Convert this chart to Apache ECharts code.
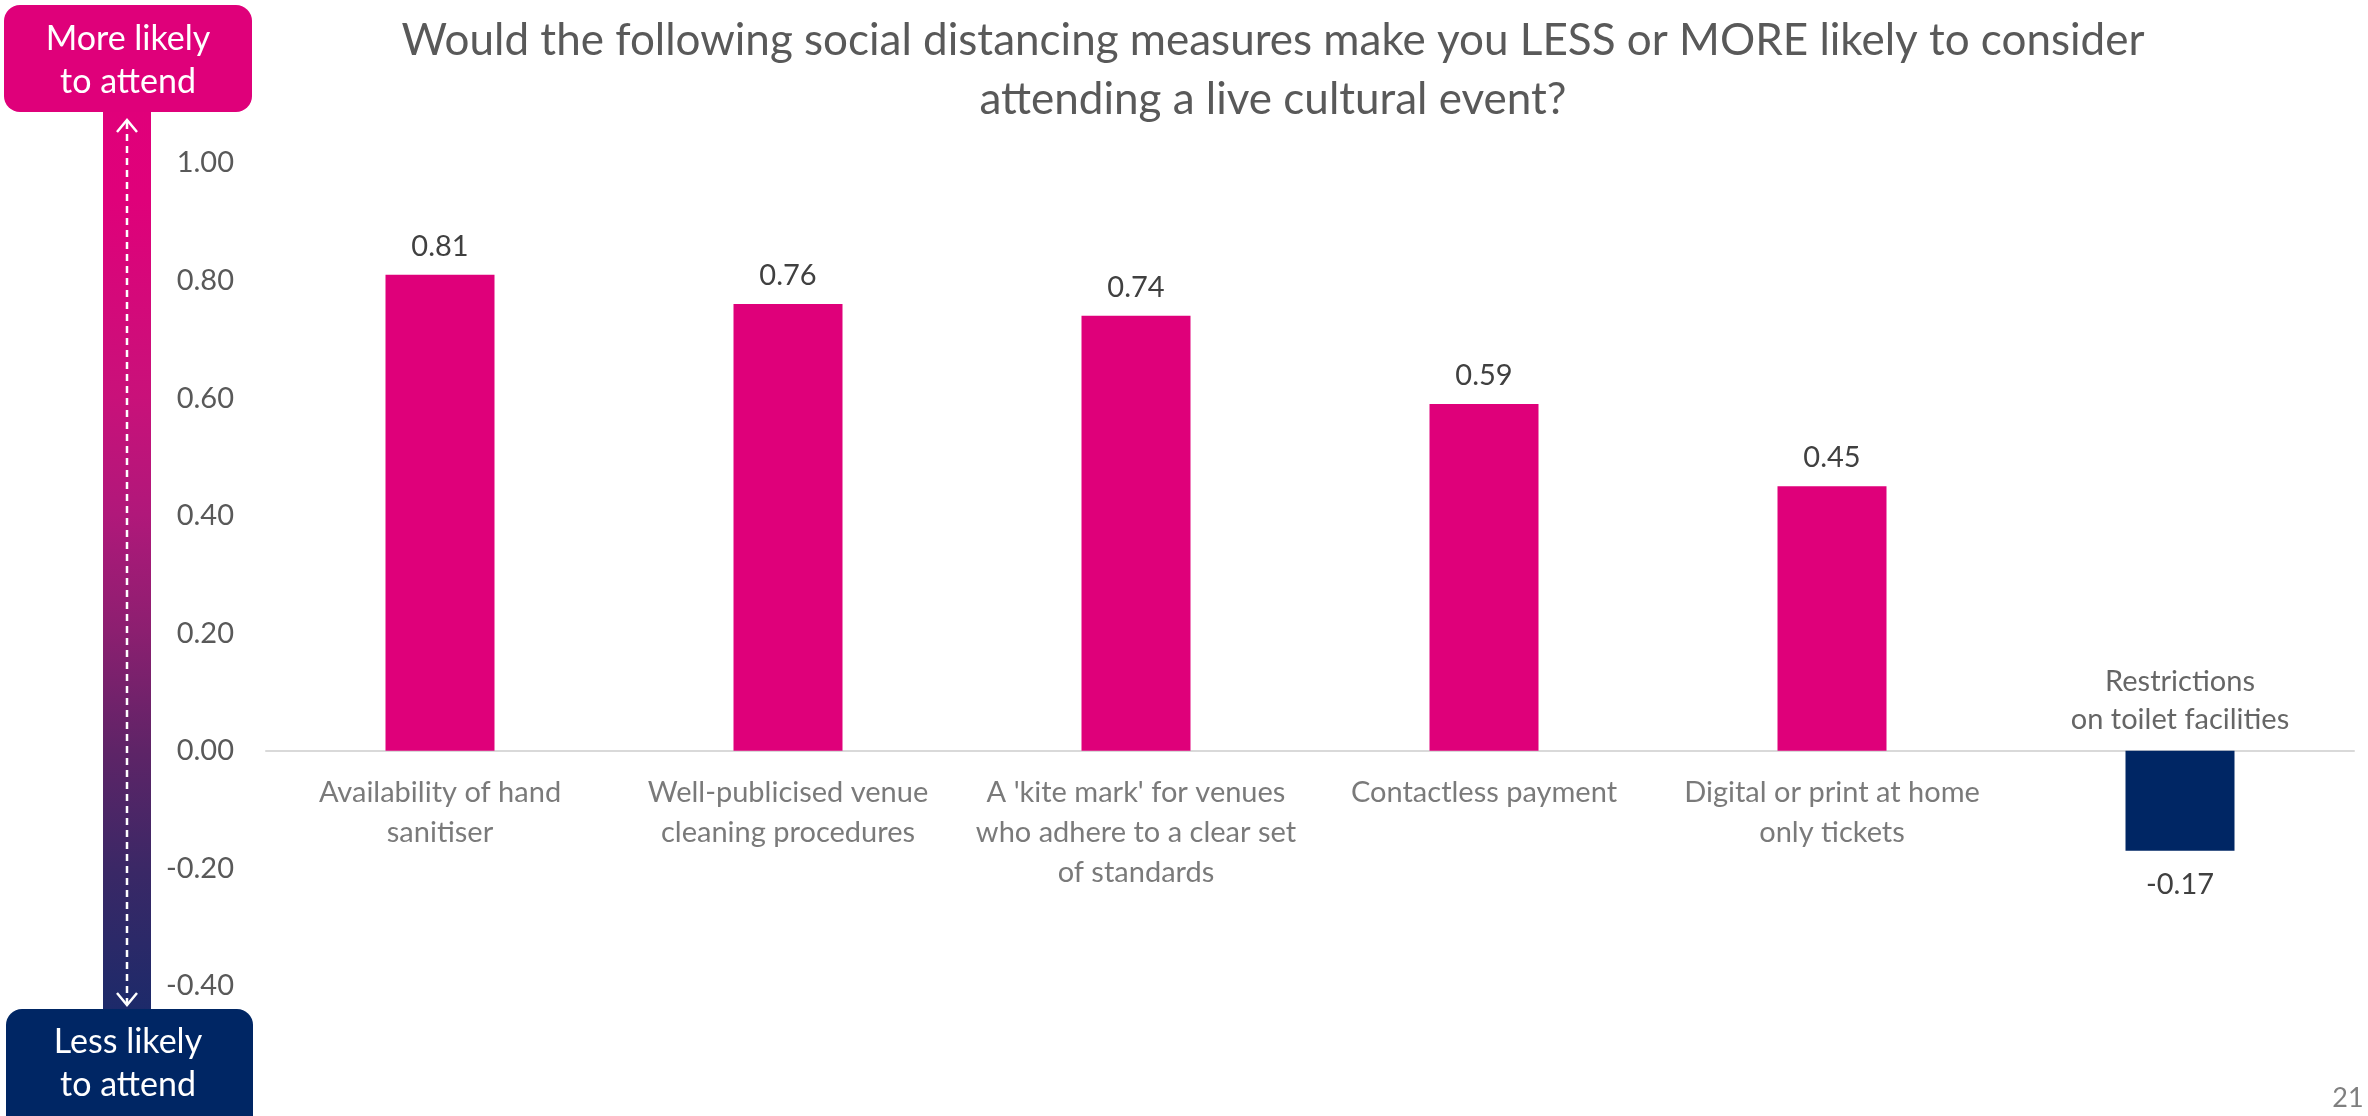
<!DOCTYPE html>
<html>
<head>
<meta charset="utf-8">
<script src="https://cdn.jsdelivr.net/npm/echarts@6/dist/echarts.min.js"></script>
<style>
html,body{margin:0;padding:0;background:#fff;}
#chart{width:2368px;height:1116px;}
</style>
</head>
<body>
<div id="chart"></div>
<script>
const titleText = "Would the following social distancing measures make you LESS or MORE likely to consider\nattending a live cultural event?";
const categories = [
  "Availability of hand\nsanitiser",
  "Well-publicised venue\ncleaning procedures",
  "A 'kite mark' for venues\nwho adhere to a clear set\nof standards",
  "Contactless payment",
  "Digital or print at home\nonly tickets",
  "Restrictions\non toilet facilities"
];
const values = [0.81, 0.76, 0.74, 0.59, 0.45, -0.17];
const yTicks = [-0.4, -0.2, 0, 0.2, 0.4, 0.6, 0.8, 1.0];
const topBoxText = "More likely\nto attend";
const bottomBoxText = "Less likely\nto attend";
const pageNumber = "21";

const PINK = '#DF007A';
const NAVY = '#002664';
const FONT = 'Lato, "Noto Sans", sans-serif';

const chart = echarts.init(document.getElementById('chart'), null, {renderer: 'canvas'});

const option = {
  backgroundColor: '#ffffff',
  animation: false,
  title: {
    text: titleText,
    left: 1268,
    top: 6,
    textAlign: 'center',
    textStyle: {
      fontFamily: FONT,
      fontSize: 44,
      fontWeight: 'normal',
      color: '#595959',
      lineHeight: 59
    }
  },
  grid: {left: 266, right: 14, top: 163, bottom: 130, containLabel: false, outerBoundsMode: 'none'},
  xAxis: {
    type: 'category',
    data: categories,
    axisLine: {show: true, onZero: true, lineStyle: {color: '#D9D9D9', width: 2}},
    axisTick: {show: false},
    axisLabel: {show: false}
  },
  yAxis: {
    type: 'value',
    min: yTicks[0],
    max: yTicks[yTicks.length - 1],
    interval: 0.2,
    axisLine: {show: false},
    axisTick: {show: false},
    splitLine: {show: false},
    axisLabel: {
      margin: 32,
      fontFamily: FONT,
      fontSize: 29,
      color: '#595959',
      formatter: function (v) { return v.toFixed(2); }
    }
  },
  series: [
    {
      type: 'bar',
      barWidth: 109,
      data: values.map(function (v) {
        return {
          value: v,
          itemStyle: {color: v < 0 ? NAVY : PINK},
          label: {position: v < 0 ? 'bottom' : 'top', distance: v < 0 ? 19 : 14}
        };
      }),
      label: {
        show: true,
        fontFamily: FONT,
        fontSize: 29,
        color: '#404040',
        formatter: function (p) { return p.value.toFixed(2); }
      }
    },
    {
      type: 'scatter',
      symbolSize: 0,
      silent: true,
      data: values.map(function (v, i) {
        return {
          value: [i, 0],
          label: v < 0
            ? {position: 'top', distance: 12, color: '#404040', lineHeight: 38}
            : {position: 'bottom', distance: 22, color: '#595959', lineHeight: 40}
        };
      }),
      label: {
        show: true,
        fontFamily: FONT,
        fontSize: 29,
        align: 'center',
        formatter: function (p) { return categories[p.value[0]]; }
      }
    }
  ],
  graphic: [
    {
      type: 'rect',
      shape: {x: 103, y: 110, width: 48, height: 902},
      style: {
        fill: new echarts.graphic.LinearGradient(0, 0, 0, 1, [
          {offset: 0, color: '#E0007A'},
          {offset: 0.1, color: '#DF017A'},
          {offset: 0.317, color: '#C9117A'},
          {offset: 0.449, color: '#B0187A'},
          {offset: 0.577, color: '#8C1F70'},
          {offset: 0.71, color: '#5E2467'},
          {offset: 0.844, color: '#3A2866'},
          {offset: 1, color: '#1C2A6A'}
        ])
      },
      z: 1
    },
    {
      type: 'line',
      shape: {x1: 127, y1: 122, x2: 127, y2: 1003},
      style: {stroke: '#ffffff', lineWidth: 2.5, lineDash: [7, 5]},
      z: 2
    },
    {
      type: 'polyline',
      shape: {points: [[117, 132], [127, 120], [137, 132]]},
      style: {stroke: '#ffffff', lineWidth: 2.5, fill: null},
      z: 2
    },
    {
      type: 'polyline',
      shape: {points: [[117, 993], [127, 1005], [137, 993]]},
      style: {stroke: '#ffffff', lineWidth: 2.5, fill: null},
      z: 2
    },
    {
      type: 'rect',
      shape: {x: 4, y: 5, width: 248, height: 107, r: 16},
      style: {fill: PINK},
      z: 3
    },
    {
      type: 'text',
      x: 128, y: 61,
      style: {
        text: topBoxText, fill: '#ffffff', fontFamily: FONT, fontSize: 34, lineHeight: 43,
        align: 'center', verticalAlign: 'middle', textAlign: 'center', textVerticalAlign: 'middle'
      },
      z: 4
    },
    {
      type: 'rect',
      shape: {x: 6, y: 1009, width: 247, height: 125, r: 16},
      style: {fill: NAVY},
      z: 3
    },
    {
      type: 'text',
      x: 128, y: 1064,
      style: {
        text: bottomBoxText, fill: '#ffffff', fontFamily: FONT, fontSize: 34, lineHeight: 43,
        align: 'center', verticalAlign: 'middle', textAlign: 'center', textVerticalAlign: 'middle'
      },
      z: 4
    },
    {
      type: 'text',
      x: 2348, y: 1098,
      style: {
        text: pageNumber, fill: '#7F7F7F', fontFamily: FONT, fontSize: 27,
        align: 'center', verticalAlign: 'middle', textAlign: 'center', textVerticalAlign: 'middle'
      },
      z: 4
    }
  ]
};
chart.setOption(option);
</script>
</body>
</html>
